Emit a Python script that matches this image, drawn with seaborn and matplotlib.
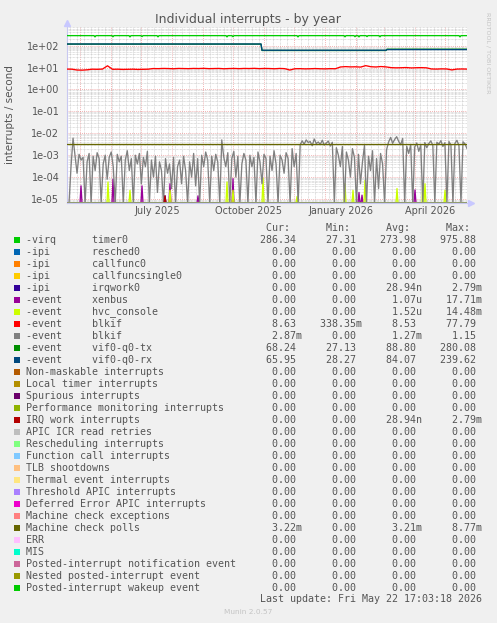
import numpy as np
import pandas as pd
import matplotlib
matplotlib.use("Agg")
import matplotlib.pyplot as plt
import matplotlib.dates as mdates
from matplotlib.patches import Rectangle
from matplotlib.ticker import FixedLocator, NullFormatter, LogLocator
import seaborn as sns

# time window of the munin "by year" graph (400 days up to last update)
start = pd.Timestamp("2025-04-17 17:03")
end = pd.Timestamp("2026-05-22 17:03")

# legend table
legend_groups = ['-virq', '-ipi', '-ipi', '-ipi', '-ipi', '-event', '-event',
                 '-event', '-event', '-event', '-event'] + [''] * 19
legend_names = ['timer0', 'resched0', 'callfunc0', 'callfuncsingle0', 'irqwork0',
                'xenbus', 'hvc_console', 'blkif', 'blkif', 'vif0-q0-tx', 'vif0-q0-rx',
                'Non-maskable interrupts', 'Local timer interrupts', 'Spurious interrupts',
                'Performance monitoring interrupts', 'IRQ work interrupts',
                'APIC ICR read retries', 'Rescheduling interrupts',
                'Function call interrupts', 'TLB shootdowns', 'Thermal event interrupts',
                'Threshold APIC interrupts', 'Deferred Error APIC interrupts',
                'Machine check exceptions', 'Machine check polls', 'ERR', 'MIS',
                'Posted-interrupt notification event', 'Nested posted-interrupt event',
                'Posted-interrupt wakeup event']
legend_colors = ['#00CC00', '#0066B3', '#FF8000', '#FFCC00', '#330099', '#990099',
                 '#CCFF00', '#FF0000', '#808080', '#008F00', '#00487D', '#B35A00',
                 '#B38F00', '#6B006B', '#8FB300', '#B30000', '#BEBEBE', '#80FF80',
                 '#80C9FF', '#FFC080', '#FFE680', '#AA80FF', '#EE00CC', '#FF8080',
                 '#666600', '#FFBFFF', '#00FFCC', '#CC6699', '#999900', '#00CC00']
cur_vals = ['286.34', '0.00', '0.00', '0.00', '0.00', '0.00', '0.00', '8.63', '2.87m',
            '68.24', '65.95'] + ['0.00'] * 13 + ['3.22m'] + ['0.00'] * 5
min_vals = ['27.31', '0.00', '0.00', '0.00', '0.00', '0.00', '0.00', '338.35m', '0.00',
            '27.13', '28.27'] + ['0.00'] * 19
avg_vals = ['273.98', '0.00', '0.00', '0.00', '28.94n', '1.07u', '1.52u', '8.53', '1.27m',
            '88.80', '84.07', '0.00', '0.00', '0.00', '0.00', '28.94n'] + ['0.00'] * 8 + \
           ['3.21m'] + ['0.00'] * 5
max_vals = ['975.88', '0.00', '0.00', '0.00', '2.79m', '17.71m', '14.48m', '77.79', '1.15',
            '280.08', '239.62', '0.00', '0.00', '0.00', '0.00', '2.79m'] + ['0.00'] * 8 + \
           ['8.77m'] + ['0.00'] * 5

# series values
timer0_level = 286.0
timer0_dip_days = [28, 46, 63, 75, 91, 160, 166, 231, 278, 288, 292, 300, 313, 393]
timer0_dip_vals = [250, 255, 250, 258, 252, 250, 255, 250, 252, 255, 250, 258, 252, 250]

tx_levels = [117.0, 60.0, 68.5]
rx_levels = [119.0, 61.5, 66.0]
level_change_days = [195, 320]

# blkif (red), one value every 5 days
blkif_red = [
    8.5, 8.4, 7.7, 7.6, 7.9, 8.4, 8.3, 8.5, 12.0, 8.3,
    8.4, 8.2, 8.3, 8.4, 8.2, 8.3, 8.4, 9.0, 8.9, 9.1,
    9.0, 8.8, 9.1, 9.0, 8.9, 9.1, 9.0, 9.2, 8.9, 9.0,
    9.1, 8.8, 9.0, 9.1, 8.9, 9.1, 9.0, 9.2, 8.9, 9.1,
    9.0, 8.8, 9.1, 8.9, 7.7, 8.8, 8.9, 8.7, 8.8, 9.0,
    8.8, 8.7, 8.9, 8.8, 10.6, 11.0, 10.7, 10.8, 10.5, 12.2,
    10.9, 10.6, 11.1, 10.7, 9.9, 9.7, 9.8, 10.0, 9.6, 9.8,
    9.9, 9.7, 8.6, 8.5, 8.7, 8.6, 7.8, 8.5, 8.6, 8.5,
]

# blkif (grey), one value every 2 days, in milli-interrupts/s
blkif_grey_m = [
    0, 0, 0.3, 6.0, 0.9, 0.15, 1.1, 0.6, 0.8, 0,
    0.5, 1.2, 0, 0.9, 0.2, 1.3, 0.7, 0, 0.4, 1.0,
    0.08, 0.8, 1.4, 0.3, 0, 1.1, 0.5, 0.9, 0, 0.6,
    1.6, 0.2, 0.7, 0, 1.0, 0.4, 1.2, 0.05, 0.8, 0.3,
    1.5, 0, 0.6, 0.1, 0.9, 0.02, 0.5, 0.2, 0, 0.7,
    0.15, 0.4, 0.03, 0.8, 0, 0.3, 0.6, 0.05, 0.9, 0.2,
    0, 0.5, 0.1, 1.2, 0.04, 0.7, 0, 1.0, 0.3, 1.4,
    0.6, 0, 0.9, 0.2, 1.1, 0.5, 0, 5.0, 0.8, 0.3,
    1.3, 0, 0.7, 1.5, 0.1, 0.9, 0, 0.4, 1.2, 0.6,
    0, 1.0, 0.3, 0.8, 0, 1.4, 0.5, 0.05, 1.1, 0.7,
    0, 0.9, 0.2, 1.6, 0.4, 0, 1.0, 0.6, 0.15, 1.3,
    0.7, 0, 2.0, 0.3, 1.2, 0, 3.0, 4.5, 3.2, 5.0,
    3.8, 4.2, 2.7, 5.5, 3.4, 4.0, 3.1, 4.8, 2.9, 3.6,
    4.4, 2.6, 3.9, 0, 2.2, 1.0, 0.3, 2.5, 0, 1.4,
    0.6, 0.1, 2.0, 0.8, 0, 1.1, 0.05, 0.5, 2.8, 0,
    0.9, 0.2, 1.6, 0, 0.7, 0.03, 1.2, 0.4, 0, 1.8,
    4.0, 6.5, 3.5, 5.2, 7.0, 4.3, 3.0, 5.8, 0, 2.6,
    1.2, 3.1, 0, 2.4, 3.6, 1.5, 2.9, 0, 3.8, 2.2,
    3.4, 4.5, 2.8, 0, 3.9, 3.2, 4.6, 2.5, 3.7, 0,
    4.2, 3.0, 0, 3.5, 4.8, 2.7, 0, 4.1, 3.3, 2.0,
]

xenbus_days = [14, 46, 75, 103, 131, 166, 292, 295, 348]
xenbus_vals = [4e-5, 8e-5, 4e-5, 5e-5, 1.4e-5, 8.5e-5, 2e-5, 1.5e-5, 2.6e-5]
hvc_days = [41, 63, 103, 160, 166, 196, 230, 278, 286, 298, 330, 356, 358, 378]
hvc_vals = [6e-5, 2.5e-5, 2.5e-5, 6e-5, 2.5e-5, 9e-5, 1.3e-5, 5e-5, 2.5e-5, 7e-5,
            3e-5, 7e-5, 5e-5, 2.5e-5]
irqwork_days = [98]
irqwork_vals = [1.4e-5]
mce_poll_level = 3.21e-3

ytick_vals = [1e-5, 1e-4, 1e-3, 1e-2, 1e-1, 1e0, 1e1, 1e2]
ytick_labels = ['1e-05', '1e-04', '1e-03', '1e-02', '1e-01', '1e+00', '1e+01', '1e+02']
xlabel_months = ['2025-07-01', '2025-10-01', '2026-01-01', '2026-04-01']
xtick_labels = ['July 2025', 'October 2025', 'January 2026', 'April 2026']

ybot, ytop = 10 ** -5.195, 10 ** 2.85

# build the series
days = pd.date_range(start, end, freq='D')
n = len(days)


def spikes(d, v):
    arr = np.zeros(n)
    arr[d] = v
    return arr


def levels(lv):
    arr = np.empty(n)
    edges = [0] + level_change_days + [n]
    for i, val in enumerate(lv):
        arr[edges[i]:edges[i + 1]] = val
    return arr


timer0 = np.full(n, timer0_level)
timer0[timer0_dip_days] = timer0_dip_vals

series = {i: (days, np.zeros(n)) for i in range(len(legend_names))}
series[0] = (days, timer0)
series[4] = (days, spikes(irqwork_days, irqwork_vals))
series[5] = (days, spikes(xenbus_days, xenbus_vals))
series[6] = (days, spikes(hvc_days, hvc_vals))
series[7] = (pd.date_range(start, end, periods=len(blkif_red)), np.array(blkif_red))
series[8] = (pd.date_range(start, end, periods=len(blkif_grey_m)),
             np.array(blkif_grey_m) * 1e-3)
series[9] = (days, levels(tx_levels))
series[10] = (days, levels(rx_levels))
series[15] = (days, spikes(irqwork_days, irqwork_vals))
series[24] = (days, np.full(n, mce_poll_level))

sns.set_style('white')
plt.rcParams['font.family'] = ['DejaVu Sans']

W, H = 497, 623
fig = plt.figure(figsize=(W / 100, H / 100), dpi=100, facecolor='#F0F0F0')
ax = fig.add_axes([67 / W, 1 - 203.3 / H, 400 / W, (203.3 - 27) / H])
ax.set_facecolor('white')

# draw in legend order so later series sit on top, like rrdtool
for i in range(len(legend_names)):
    t, v = series[i]
    d = pd.DataFrame({'time': t, 'value': np.maximum(v, ybot)})
    sns.lineplot(data=d, x='time', y='value', color=legend_colors[i],
                 estimator=None, linewidth=0.95, ax=ax, zorder=3)

ax.set_yscale('log')
ax.set_ylim(ybot, ytop)
ax.set_xlim(start, end)
ax.set_xlabel('')
ax.set_ylabel('')

ax.yaxis.set_major_locator(FixedLocator(ytick_vals))
ax.set_yticklabels(ytick_labels)
ax.yaxis.set_minor_locator(LogLocator(base=10, subs=np.arange(2, 10)))
ax.yaxis.set_minor_formatter(NullFormatter())

ax.xaxis.set_major_locator(mdates.MonthLocator())
ax.xaxis.set_major_formatter(NullFormatter())
ax.xaxis.set_minor_locator(mdates.WeekdayLocator(byweekday=mdates.MO))
ax.xaxis.set_minor_formatter(NullFormatter())

# month labels centred inside their month
for m, lab in zip(xlabel_months, xtick_labels):
    m0 = pd.Timestamp(m)
    m1 = m0 + pd.offsets.MonthBegin(1)
    ax.text(m0 + (m1 - m0) / 2, -0.045, lab, transform=ax.get_xaxis_transform(),
            ha='center', va='center', fontsize=7, color='#555555')

ax.tick_params(axis='both', which='major', length=2, color='#E08080', width=0.6)
ax.tick_params(axis='y', which='major', labelsize=7, labelcolor='#555555', pad=3.5)
ax.tick_params(axis='both', which='minor', length=0)

ax.grid(False)
ax.yaxis.grid(True, which='minor', color='#C4C4C4', linestyle=(0, (1, 1)), linewidth=0.5)
ax.xaxis.grid(True, which='minor', color='#C4C4C4', linestyle=(0, (1, 1)), linewidth=0.5)
ax.yaxis.grid(True, which='major', color='#EE9A9A', linestyle=(0, (1, 1.5)), linewidth=0.6)
ax.xaxis.grid(True, which='major', color='#EE9A9A', linestyle=(0, (1, 1.5)), linewidth=0.6)
ax.set_axisbelow(True)

for s in ['top', 'right']:
    ax.spines[s].set_visible(False)
for s in ['left', 'bottom']:
    ax.spines[s].set_color('#C8C8F0')
    ax.spines[s].set_linewidth(0.8)
    ax.spines[s].set_zorder(1)
ax.plot([0], [1.02], marker='^', ms=4, color='#C8C8FF', transform=ax.transAxes, clip_on=False)
ax.plot([1.01], [0], marker='>', ms=4, color='#C8C8FF', transform=ax.transAxes, clip_on=False)


def fx(x):
    return x / W


def fy(y):
    return 1 - y / H


fig.text(fx(248), fy(19), 'Individual interrupts - by year', ha='center', va='center',
         fontsize=9, color='#555555')
fig.text(fx(10), fy(115), 'interrupts / second', ha='center', va='center',
         rotation=90, fontsize=7.5, color='#555555')
fig.text(fx(488), fy(53), 'RRDTOOL / TOBI OETIKER', ha='center', va='center',
         rotation=270, fontsize=4.6, color='#C4C4C4')
fig.text(fx(248), fy(612), 'Munin 2.0.57', ha='center', va='center',
         fontsize=5.3, color='#C4C4C4')

mono = dict(family='DejaVu Sans Mono', fontsize=7.2, color='#555555')


def field(s):
    if s[-1].isalpha():
        return f"{s[:-1]:>9}{s[-1]}"
    return f"{s:>9} "


header = ' ' * 36 + ''.join(f"{h:>8}  " for h in ['Cur:', 'Min:', 'Avg:', 'Max:'])
fig.text(fx(26), fy(228), header, ha='left', va='center', **mono)
for i, name in enumerate(legend_names):
    y = 240 + 12 * i
    g = legend_groups[i]
    label = f"{g:<11}{name}" if g else name
    row = f"{label:<36}" + field(cur_vals[i]) + field(min_vals[i]) + \
        field(avg_vals[i]) + field(max_vals[i])
    fig.text(fx(26), fy(y), row, ha='left', va='center', **mono)
    fig.add_artist(Rectangle((fx(14), fy(y + 3)), 6 / W, 6 / H,
                             transform=fig.transFigure, facecolor=legend_colors[i],
                             edgecolor='none'))
fig.text(fx(482), fy(599), 'Last update: Fri May 22 17:03:18 2026', ha='right',
         va='center', **mono)

fig.savefig('out.png', dpi=100, facecolor=fig.get_facecolor())
